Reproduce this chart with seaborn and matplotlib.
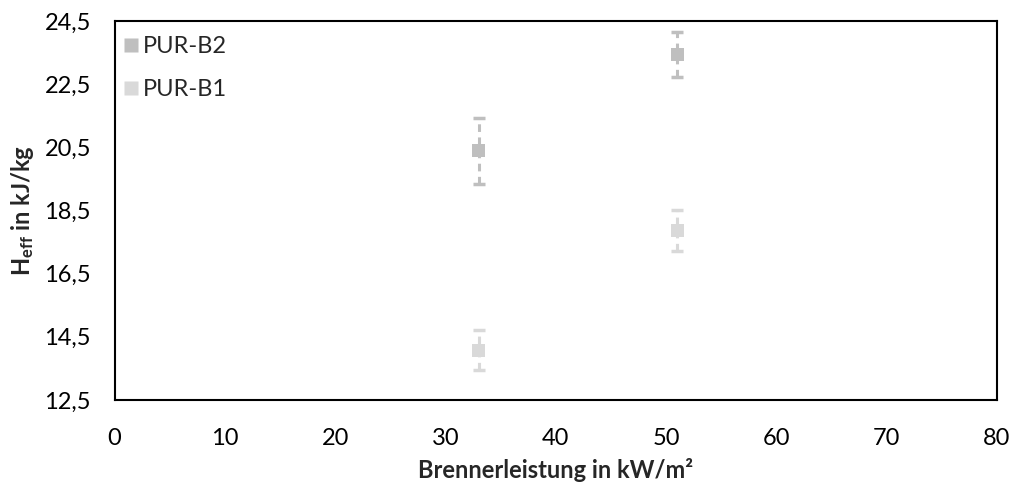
import matplotlib
matplotlib.use("Agg")
import matplotlib.pyplot as plt
import seaborn as sns
import pandas as pd
import numpy as np
from matplotlib.ticker import FuncFormatter, MultipleLocator

# Effective heat of combustion vs. burner output
series = ["PUR-B2", "PUR-B1"]
burner_power = [33, 51]
heff_b2 = [20.39, 23.44]
err_b2 = [1.05, 0.70]
heff_b1 = [14.08, 17.87]
err_b1 = [0.63, 0.65]
colors = {"PUR-B2": "#BFBFBF", "PUR-B1": "#D9D9D9"}

df = pd.DataFrame({
    "Leistung": burner_power * 2,
    "Heff": heff_b2 + heff_b1,
    "err": err_b2 + err_b1,
    "Serie": ["PUR-B2"] * 2 + ["PUR-B1"] * 2,
})

sns.set_theme(style="white")
plt.rcParams["font.family"] = ["Lato", "DejaVu Sans"]
plt.rcParams["mathtext.fontset"] = "custom"
plt.rcParams["mathtext.rm"] = "Lato"
plt.rcParams["mathtext.bf"] = "Lato:bold"

fig, ax = plt.subplots(figsize=(10.16, 4.88), dpi=100)
fig.subplots_adjust(left=114.5 / 1016, right=997 / 1016, top=1 - 21 / 488, bottom=1 - 400 / 488)

for s in series:
    d = df[df["Serie"] == s]
    eb = ax.errorbar(d["Leistung"], d["Heff"], yerr=d["err"], fmt="none",
                     ecolor=colors[s], elinewidth=2.2, capsize=4, capthick=2.5, zorder=2)
    for lc in eb[2]:
        lc.set_linestyle((0, (2.5, 1.8)))

sns.scatterplot(data=df, x="Leistung", y="Heff", hue="Serie", hue_order=series,
                palette=colors, marker="s", s=90, edgecolor="none", ax=ax, zorder=3)

ax.set_xlim(0, 80)
ax.set_ylim(12.5, 24.5)
ax.xaxis.set_major_locator(MultipleLocator(10))
ax.set_yticks(np.arange(12.5, 24.6, 2))
ax.yaxis.set_major_formatter(FuncFormatter(lambda v, p: f"{v:.1f}".replace(".", ",")))
ax.xaxis.set_major_formatter(FuncFormatter(lambda v, p: f"{v:.0f}"))

ax.tick_params(axis="both", direction="in", length=5, width=1.3, colors="black",
               labelsize=17)
ax.tick_params(axis="y", pad=17)
ax.tick_params(axis="x", pad=20)
for sp in ax.spines.values():
    sp.set_color("black")
    sp.set_linewidth(1.5)

ax.set_xlabel("Brennerleistung in kW/m²", fontsize=17, fontweight="bold", va="center")
ax.set_ylabel(r"$\mathbf{H_{eff}}$ in kJ/kg", fontsize=17, fontweight="bold", va="center")
ax.xaxis.set_label_coords(0.5, (400 - 470) / 379)
ax.yaxis.set_label_coords((22 - 114.5) / 882.5, 0.5)

leg = ax.legend(loc="upper left", frameon=False, fontsize=17, handletextpad=0.0,
                handlelength=1.0, labelspacing=0.95, borderaxespad=0.3,
                bbox_to_anchor=(-0.0135, 1.004))

fig.savefig("out.png", dpi=100)
